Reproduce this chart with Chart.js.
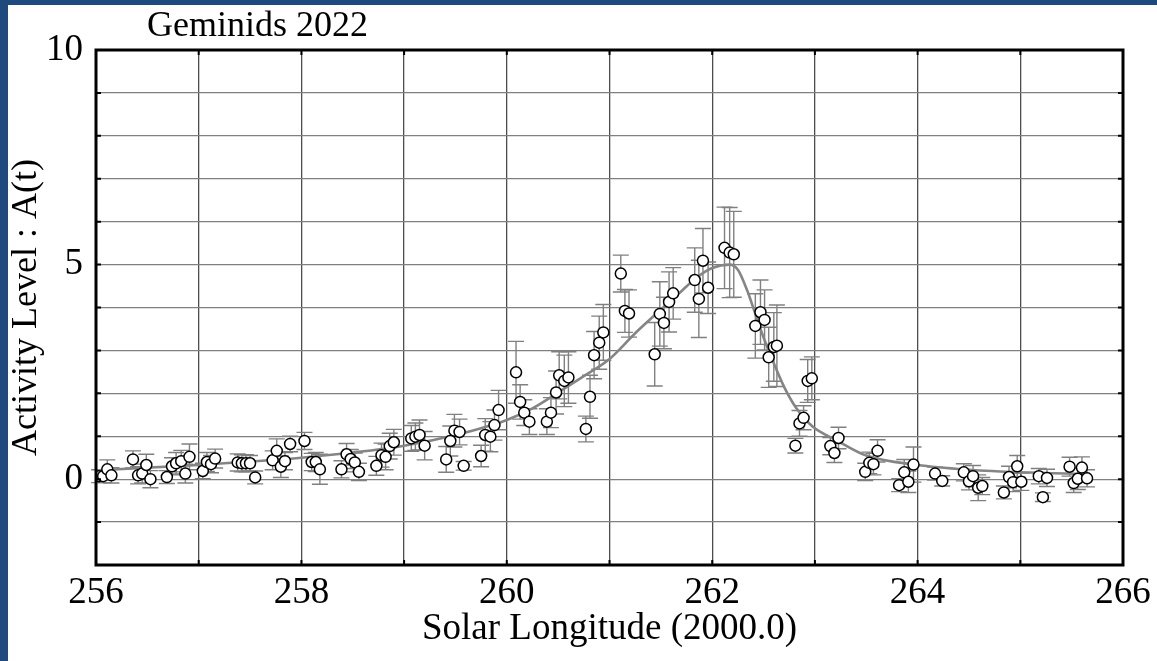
<!DOCTYPE html>
<html>
<head>
<meta charset="utf-8">
<script src="https://cdn.jsdelivr.net/npm/chart.js@4.4.1/dist/chart.umd.min.js"></script>
<style>
  html, body { margin: 0; padding: 0; }
  body { width: 1157px; height: 661px; background: #1f4a7e; position: relative; overflow: hidden; }
  #frame { position: absolute; left: 8px; top: 5px; width: 1149px; height: 656px; background: #fff; }
  #title { position: absolute; left: 139px; top: 1px; font: 36px 'Liberation Serif', 'Times New Roman', serif; line-height: 36px; color: #000; }
  canvas { position: absolute; left: 0; top: 0; }
</style>
</head>
<body>
<div id="frame">
  <canvas id="chart" width="1149" height="656"></canvas>
  <div id="title">Geminids 2022</div>
</div>
<script>
'use strict';

// observed activity (solar longitude, A(t), error)
var lambda = [256.03, 256.07, 256.11, 256.15, 256.36, 256.41, 256.45, 256.49, 256.53, 256.69,
  256.74, 256.78, 256.83, 256.87, 256.91, 257.04, 257.08, 257.12, 257.16, 257.38,
  257.42, 257.46, 257.50, 257.55, 257.72, 257.76, 257.80, 257.84, 257.89, 258.03,
  258.10, 258.14, 258.18, 258.39, 258.44, 258.48, 258.52, 258.56, 258.73, 258.78,
  258.82, 258.86, 258.90, 259.07, 259.11, 259.15, 259.20, 259.41, 259.45, 259.49,
  259.54, 259.58, 259.75, 259.79, 259.84, 259.88, 259.92, 260.09, 260.13, 260.17,
  260.22, 260.39, 260.43, 260.48, 260.51, 260.56, 260.60, 260.77, 260.81, 260.85,
  260.90, 260.94, 261.11, 261.15, 261.19, 261.44, 261.49, 261.53, 261.58, 261.62,
  261.83, 261.87, 261.91, 261.96, 262.12, 262.17, 262.21, 262.42, 262.47, 262.51,
  262.55, 262.60, 262.63, 262.81, 262.85, 262.89, 262.93, 262.97, 263.15, 263.19,
  263.23, 263.49, 263.53, 263.57, 263.61, 263.82, 263.87, 263.91, 263.96, 264.17,
  264.24, 264.45, 264.50, 264.54, 264.59, 264.63, 264.84, 264.89, 264.93, 264.97,
  265.01, 265.18, 265.22, 265.26, 265.48, 265.52, 265.56, 265.60, 265.65];

var activity = [0.07, 0.07, 0.23, 0.09, 0.46, 0.09, 0.13, 0.33, 0.00, 0.05,
  0.30, 0.37, 0.42, 0.13, 0.52, 0.19, 0.40, 0.35, 0.48, 0.39,
  0.37, 0.37, 0.37, 0.04, 0.44, 0.66, 0.29, 0.42, 0.82, 0.89,
  0.40, 0.40, 0.23, 0.23, 0.58, 0.47, 0.39, 0.17, 0.31, 0.56,
  0.52, 0.77, 0.86, 0.95, 0.99, 1.03, 0.78, 0.46, 0.89, 1.13,
  1.10, 0.31, 0.54, 1.03, 0.99, 1.26, 1.61, 2.49, 1.80, 1.55,
  1.34, 1.34, 1.55, 2.02, 2.42, 2.29, 2.37, 1.17, 1.92, 2.89,
  3.18, 3.42, 4.79, 3.92, 3.86, 2.91, 3.85, 3.64, 4.13, 4.33,
  4.64, 4.20, 5.09, 4.46, 5.39, 5.28, 5.24, 3.57, 3.89, 3.71,
  2.84, 3.08, 3.11, 0.78, 1.30, 1.43, 2.29, 2.35, 0.77, 0.61,
  0.96, 0.17, 0.38, 0.35, 0.66, -0.14, 0.16, -0.06, 0.34, 0.13,
  -0.04, 0.16, -0.05, 0.07, -0.20, -0.16, -0.31, 0.05, -0.07, 0.30,
  -0.06, 0.07, -0.42, 0.03, 0.29, -0.09, 0.01, 0.27, 0.02];

var errors = [0.15, 0.15, 0.22, 0.18, 0.20, 0.20, 0.22, 0.25, 0.20, 0.15,
  0.20, 0.25, 0.25, 0.22, 0.30, 0.18, 0.22, 0.20, 0.22, 0.20,
  0.20, 0.20, 0.18, 0.15, 0.22, 0.28, 0.25, 0.20, 0.18, 0.20,
  0.20, 0.22, 0.35, 0.20, 0.25, 0.22, 0.22, 0.20, 0.22, 0.28,
  0.30, 0.30, 0.30, 0.30, 0.32, 0.35, 0.33, 0.30, 0.35, 0.38,
  0.30, 0.10, 0.25, 0.38, 0.35, 0.35, 0.46, 0.72, 0.40, 0.30,
  0.30, 0.30, 0.35, 0.50, 0.55, 0.60, 0.60, 0.30, 0.50, 0.55,
  0.62, 0.65, 0.43, 0.50, 0.55, 0.74, 0.75, 0.60, 0.70, 0.60,
  0.75, 0.90, 0.75, 0.60, 0.95, 1.05, 1.00, 0.75, 0.75, 0.70,
  0.70, 0.80, 0.95, 0.17, 0.30, 0.28, 0.50, 0.50, 0.20, 0.22,
  0.25, 0.20, 0.25, 0.25, 0.26, 0.15, 0.30, 0.25, 0.41, 0.15,
  0.12, 0.20, 0.20, 0.25, 0.30, 0.20, 0.15, 0.25, 0.22, 0.25,
  0.20, 0.18, 0.10, 0.20, 0.22, 0.22, 0.25, 0.25, 0.20];

// fitted activity profile
var fitLambda = [256.0, 256.5, 257.0, 257.5, 258.0, 258.5, 259.0, 259.5, 260.0, 260.25,
  260.5, 260.75, 261.0, 261.25, 261.5, 261.7, 261.85, 262.0, 262.17, 262.25,
  262.34, 262.42, 262.5, 262.6, 262.7, 262.82, 262.98, 263.2, 263.5, 264.0,
  264.5, 265.0, 265.68];
var fitLevel = [0.20, 0.27, 0.33, 0.41, 0.50, 0.62, 0.78, 1.03, 1.38, 1.65,
  2.02, 2.40, 2.80, 3.40, 3.95, 4.38, 4.70, 4.92, 5.00, 4.88,
  4.40, 3.85, 3.30, 2.70, 2.15, 1.65, 1.22, 0.92, 0.55, 0.33,
  0.22, 0.16, 0.12];

var xTicks = [256, 258, 260, 262, 264, 266];
var yTicks = [0, 5, 10];

var serif = "'Liberation Serif', 'Times New Roman', serif";

var points = lambda.map(function (x, i) { return { x: x, y: activity[i], err: errors[i] }; });
var fit = fitLambda.map(function (x, i) { return { x: x, y: fitLevel[i] }; });

var errorBars = {
  id: 'errorBars',
  beforeDatasetsDraw: function (chart) {
    var ctx = chart.ctx, xs = chart.scales.x, ys = chart.scales.y;
    ctx.save();
    ctx.strokeStyle = '#808080';
    ctx.lineWidth = 1.4;
    points.forEach(function (p) {
      var px = xs.getPixelForValue(p.x);
      var top = ys.getPixelForValue(p.y + p.err);
      var bot = ys.getPixelForValue(p.y - p.err);
      ctx.beginPath();
      ctx.moveTo(px, top); ctx.lineTo(px, bot);
      ctx.moveTo(px - 8, top); ctx.lineTo(px + 8, top);
      ctx.moveTo(px - 8, bot); ctx.lineTo(px + 8, bot);
      ctx.stroke();
    });
    ctx.restore();
  }
};

var frameBox = {
  id: 'frameBox',
  afterDatasetsDraw: function (chart) {
    var ctx = chart.ctx, a = chart.chartArea;
    var xs = chart.scales.x, ys = chart.scales.y;
    ctx.save();
    ctx.strokeStyle = '#000';
    ctx.lineWidth = 2;
    ctx.beginPath();
    xs.ticks.forEach(function (t) {
      var px = xs.getPixelForValue(t.value);
      ctx.moveTo(px, a.top); ctx.lineTo(px, a.top + 5);
      ctx.moveTo(px, a.bottom); ctx.lineTo(px, a.bottom - 5);
    });
    ys.ticks.forEach(function (t) {
      var py = ys.getPixelForValue(t.value);
      ctx.moveTo(a.left, py); ctx.lineTo(a.left + 5, py);
      ctx.moveTo(a.right, py); ctx.lineTo(a.right - 5, py);
    });
    ctx.stroke();
    ctx.lineWidth = 3;
    ctx.strokeRect(a.left, a.top, a.right - a.left, a.bottom - a.top);
    ctx.restore();
  }
};

var ctx = document.getElementById('chart').getContext('2d');
var chart = new Chart(ctx, {
  type: 'scatter',
  data: {
    datasets: [{
      label: 'A(t)',
      data: points,
      order: 0,
      pointRadius: 5.5,
      pointBackgroundColor: '#fff',
      pointBorderColor: '#000',
      pointBorderWidth: 1.5
    }, {
      label: 'fit',
      type: 'line',
      data: fit,
      order: 1,
      borderColor: '#858585',
      borderWidth: 2.6,
      pointRadius: 0,
      cubicInterpolationMode: 'monotone',
      fill: false
    }]
  },
  options: {
    responsive: false,
    animation: false,
    layout: { padding: { left: 0, top: 45, right: 34, bottom: 0 } },
    plugins: {
      legend: { display: false },
      tooltip: { enabled: false }
    },
    scales: {
      x: {
        type: 'linear',
        min: 256,
        max: 266,
        afterFit: function (s) { s.height = 96; },
        grid: { color: '#4d4d4d', lineWidth: 1.3, drawTicks: false },
        border: { display: false },
        ticks: {
          stepSize: 1,
          autoSkip: false,
          maxRotation: 0,
          padding: 6,
          color: '#000',
          font: { family: serif, size: 37 },
          callback: function (v) { return xTicks.indexOf(v) >= 0 ? String(v) : ''; }
        },
        title: {
          display: true,
          text: 'Solar Longitude (2000.0)',
          color: '#000',
          font: { family: serif, size: 37, lineHeight: 1 },
          padding: { top: 0, bottom: 13 }
        }
      },
      y: {
        type: 'linear',
        min: -2,
        max: 10,
        afterFit: function (s) { s.width = 88; },
        grid: { color: '#808080', lineWidth: 1.3, drawTicks: false },
        border: { display: false },
        ticks: {
          stepSize: 1,
          autoSkip: false,
          padding: 13,
          color: '#000',
          font: { family: serif, size: 37 },
          callback: function (v) { return yTicks.indexOf(v) >= 0 ? String(v) : ''; }
        },
        title: {
          display: true,
          text: 'Activity Level : A(t)',
          color: '#000',
          font: { family: serif, size: 36, lineHeight: 1 },
          padding: { top: 1, bottom: 0 }
        }
      }
    }
  },
  plugins: [errorBars, frameBox]
});
</script>
</body>
</html>
